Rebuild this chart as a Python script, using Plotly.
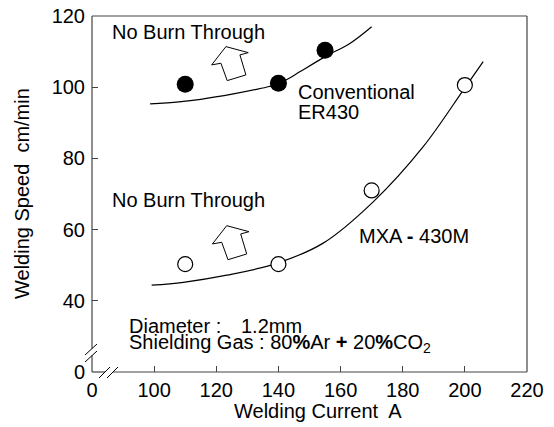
import plotly.graph_objects as go

# ---- data ----
conv_current = [110, 140, 155]
conv_speed = [100.8, 101.1, 110.4]
mxa_current = [110, 140, 170, 200]
mxa_speed = [50.3, 50.3, 71.0, 100.6]

conv_fit_current = [98.7, 108, 115, 125.5, 133, 137, 140, 143, 147, 155.5, 163, 170]
conv_fit_speed = [95.3, 95.9, 96.6, 98.1, 99.4, 100.2, 101.0, 102.3, 104.4, 108.8, 112.3, 117.0]
mxa_fit_current = [99.2, 109.4, 123.4, 139.4, 154.4, 170.5, 186.6, 199.5, 205.9]
mxa_fit_speed = [44.4, 45.2, 47.2, 50.5, 56.2, 67.8, 83.3, 99.2, 107.2]

x_tickvals = [80, 100, 120, 140, 160, 180, 200, 220]
x_ticktext = ["0", "100", "120", "140", "160", "180", "200", "220"]
y_tickvals = [20, 40, 60, 80, 100, 120]
y_ticktext = ["0", "40", "60", "80", "100", "120"]

X_RANGE = [80, 220]
Y_RANGE = [20, 120]

FONT = "Liberation Sans, Arial, sans-serif"
W, H = 554, 427
ML, MR, MT, MB = 92, 27, 16, 55
PW, PH = W - ML - MR, H - MT - MB
PX_X = PW / (X_RANGE[1] - X_RANGE[0])
PX_Y = PH / (Y_RANGE[1] - Y_RANGE[0])

fig = go.Figure()
fig.add_trace(go.Scatter(x=conv_fit_current, y=conv_fit_speed, mode="lines",
                         line=dict(color="black", width=1.2, shape="spline"),
                         showlegend=False, hoverinfo="skip"))
fig.add_trace(go.Scatter(x=mxa_fit_current, y=mxa_fit_speed, mode="lines",
                         line=dict(color="black", width=1.2, shape="spline"),
                         showlegend=False, hoverinfo="skip"))
fig.add_trace(go.Scatter(x=conv_current, y=conv_speed, mode="markers",
                         marker=dict(size=17, color="black", line=dict(width=0)),
                         showlegend=False))
fig.add_trace(go.Scatter(x=mxa_current, y=mxa_speed, mode="markers",
                         marker=dict(size=15, color="white", line=dict(color="black", width=1.2)),
                         showlegend=False))

# hollow arrows (pixel offsets from tip)
ARROW_PX = [(0, 0), (22.3, 6), (14, 8.3), (20, 28.3), (1.3, 34), (-5, 16.6), (-14.3, 18.3)]


def arrow_path(tx, ty):
    pts = [(tx + dx / PX_X, ty - dy / PX_Y) for dx, dy in ARROW_PX]
    return "M " + " L ".join(f"{x:.3f},{y:.3f}" for x, y in pts) + " Z"


shapes = []
for tx, ty in [(123.1, 111.4), (123.35, 61.1)]:
    shapes.append(dict(type="path", xref="x", yref="y", path=arrow_path(tx, ty),
                       line=dict(color="black", width=1), fillcolor="white"))


def px2paper(px, py):
    return (px - ML) / PW, (H - MB - py) / PH


def seg(p0, p1, color="#444", width=1.2):
    x0, y0 = px2paper(*p0)
    x1, y1 = px2paper(*p1)
    return dict(type="line", xref="paper", yref="paper", x0=x0, y0=y0, x1=x1, y1=y1,
                line=dict(color=color, width=width))


bx, by = ML, H - MB  # bottom-left corner in px
rx, ty_ = W - MR, MT
# frame with axis breaks
shapes += [
    seg((bx, ty_), (rx, ty_)),
    seg((rx, ty_), (rx, by)),
    seg((bx, ty_), (bx, 348.6)),
    seg((bx, 355.6), (bx, by)),
    seg((bx, by), (105, by)),
    seg((113, by), (rx, by)),
    # break slashes
    seg((85, 355), (97, 344), "black", 1),
    seg((85, 362), (97, 351), "black", 1),
    seg((99, 378), (110, 367), "black", 1),
    seg((107, 378), (118, 367), "black", 1),
]

ann_font = dict(family=FONT, size=20, color="black")
annotations = [
    dict(x=86.1, y=115.5, text="No Burn Through"),
    dict(x=86.1, y=68.2, text="No Burn Through"),
    dict(x=145.9, y=98.6, text="Conventional"),
    dict(x=145.9, y=93.0, text="ER430"),
    dict(x=165.7, y=58.1, text="MXA <b>-</b> 430M"),
    dict(x=91.7, y=32.9, text="Diameter :"),
    dict(x=127.6, y=32.9, text="1.2mm"),
    dict(x=91.7, y=27.9,
         text="Shielding Gas : 80<b>%</b>Ar <b>+</b> 20<b>%</b>CO<sub>2</sub>"),
]
for a in annotations:
    a.update(xref="x", yref="y", xanchor="left", yanchor="middle", showarrow=False,
             font=ann_font, borderpad=0)

xt_x, xt_y = px2paper(318, 411)
yt_x, yt_y = px2paper(22, 194)
annotations += [
    dict(x=xt_x, y=xt_y, xref="paper", yref="paper", text="Welding Current  A",
         showarrow=False, xanchor="center", yanchor="middle",
         font=dict(family=FONT, size=20, color="black")),
    dict(x=yt_x, y=yt_y, xref="paper", yref="paper", text="Welding Speed  cm/min",
         showarrow=False, xanchor="center", yanchor="middle", textangle=-90,
         font=dict(family=FONT, size=20, color="black")),
]

axis_common = dict(showline=False, showgrid=False, zeroline=False, ticks="inside",
                   ticklen=6, tickwidth=1.2, tickcolor="#444", automargin=False,
                   tickfont=dict(family=FONT, size=20, color="black"))
fig.update_layout(
    template="none",
    width=W, height=H, autosize=False,
    margin=dict(l=ML, r=MR, t=MT, b=MB, pad=0),
    paper_bgcolor="white", plot_bgcolor="white",
    xaxis=dict(range=X_RANGE, tickvals=x_tickvals, ticktext=x_ticktext,
               ticklabelstandoff=4, **axis_common),
    yaxis=dict(range=Y_RANGE, tickvals=y_tickvals, ticktext=y_ticktext,
               ticklabelstandoff=6, **axis_common),
    shapes=shapes,
    annotations=annotations,
)

post = ("document.documentElement.style.margin='0';"
        "document.body.style.margin='0';document.body.style.overflow='hidden';"
        "var gd=document.getElementById('{plot_id}');"
        "gd.style.position='absolute';gd.style.left='0px';gd.style.top='0px';")
fig.write_html("out.html", config={"displayModeBar": False}, post_script=post)
